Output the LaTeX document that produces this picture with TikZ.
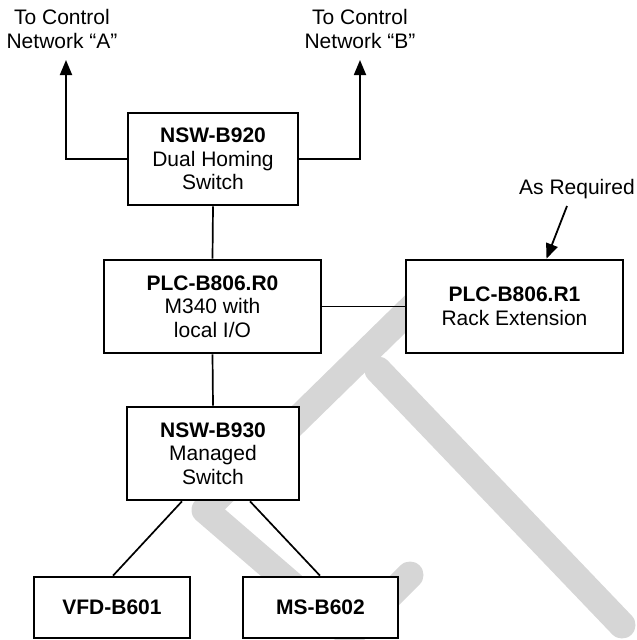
\documentclass[tikz,border=0pt]{standalone}
\usepackage{fontspec}
\setmainfont{Liberation Sans}
\usetikzlibrary{arrows.meta}

\begin{document}
\begin{tikzpicture}[x=1pt, y=-1pt,
	every node/.style={font=\fontsize{21}{23.5}\selectfont, align=center, inner sep=0pt},
	unit/.style={draw, line width=2.6pt, fill=white},
	wire/.style={line width=1.7pt},
	feed/.style={line width=1.8pt, -{Triangle[length=15pt,width=12pt]}},
	wmark/.style={line width=27pt, black!16, line cap=round, line join=round}]
\useasboundingbox (0,0) rectangle (637,640);
\draw[wmark] (440,280) -- (205,510) -- (350,635) -- (410,575);
\draw[wmark] (378,370) -- (622,625);

\node (netA) at (62,29) {To Control\\Network “A”};
\node (netB) at (360,29) {To Control\\Network “B”};
\node (req) at (577,189) {As Required};
\coordinate (netAend) at (66,60);
\coordinate (netBend) at (360,60);
\coordinate (reqTail) at (567,206);

\node[unit, minimum width=170pt, minimum height=92pt] (nswB920) at (213,159)
	{\textbf{NSW-B920}\\Dual Homing\\Switch};
\node[unit, minimum width=217pt, minimum height=93pt] (plcR0) at (212.5,306.5)
	{\textbf{PLC-B806.R0}\\M340 with\\local I/O};
\node[unit, minimum width=217pt, minimum height=93pt] (plcR1) at (514.5,306.5)
	{\textbf{PLC-B806.R1}\\Rack Extension};
\node[unit, minimum width=172pt, minimum height=93pt] (nswB930) at (213,453.5)
	{\textbf{NSW-B930}\\Managed\\Switch};
\node[unit, minimum width=156pt, minimum height=61pt] (vfd) at (112,607.5)
	{\textbf{VFD-B601}};
\node[unit, minimum width=155pt, minimum height=61pt] (ms) at (320.5,607.5)
	{\textbf{MS-B602}};

\draw[feed] (nswB920.west) -| (netAend);
\draw[feed] (nswB920.east) -| (netBend);
\draw[feed] (reqTail) -- ([xshift=32pt]plcR1.north);
\draw[wire] (nswB920.south) -- (plcR0.north);
\draw[wire] (plcR0.east) -- (plcR1.west);
\draw[wire] (plcR0.south) -- (nswB930.north);
\draw[wire] ([xshift=-31pt]nswB930.south) -- ([xshift=1pt]vfd.north);
\draw[wire] ([xshift=37pt]nswB930.south) -- ([xshift=-0.5pt]ms.north);
\end{tikzpicture}
\end{document}
